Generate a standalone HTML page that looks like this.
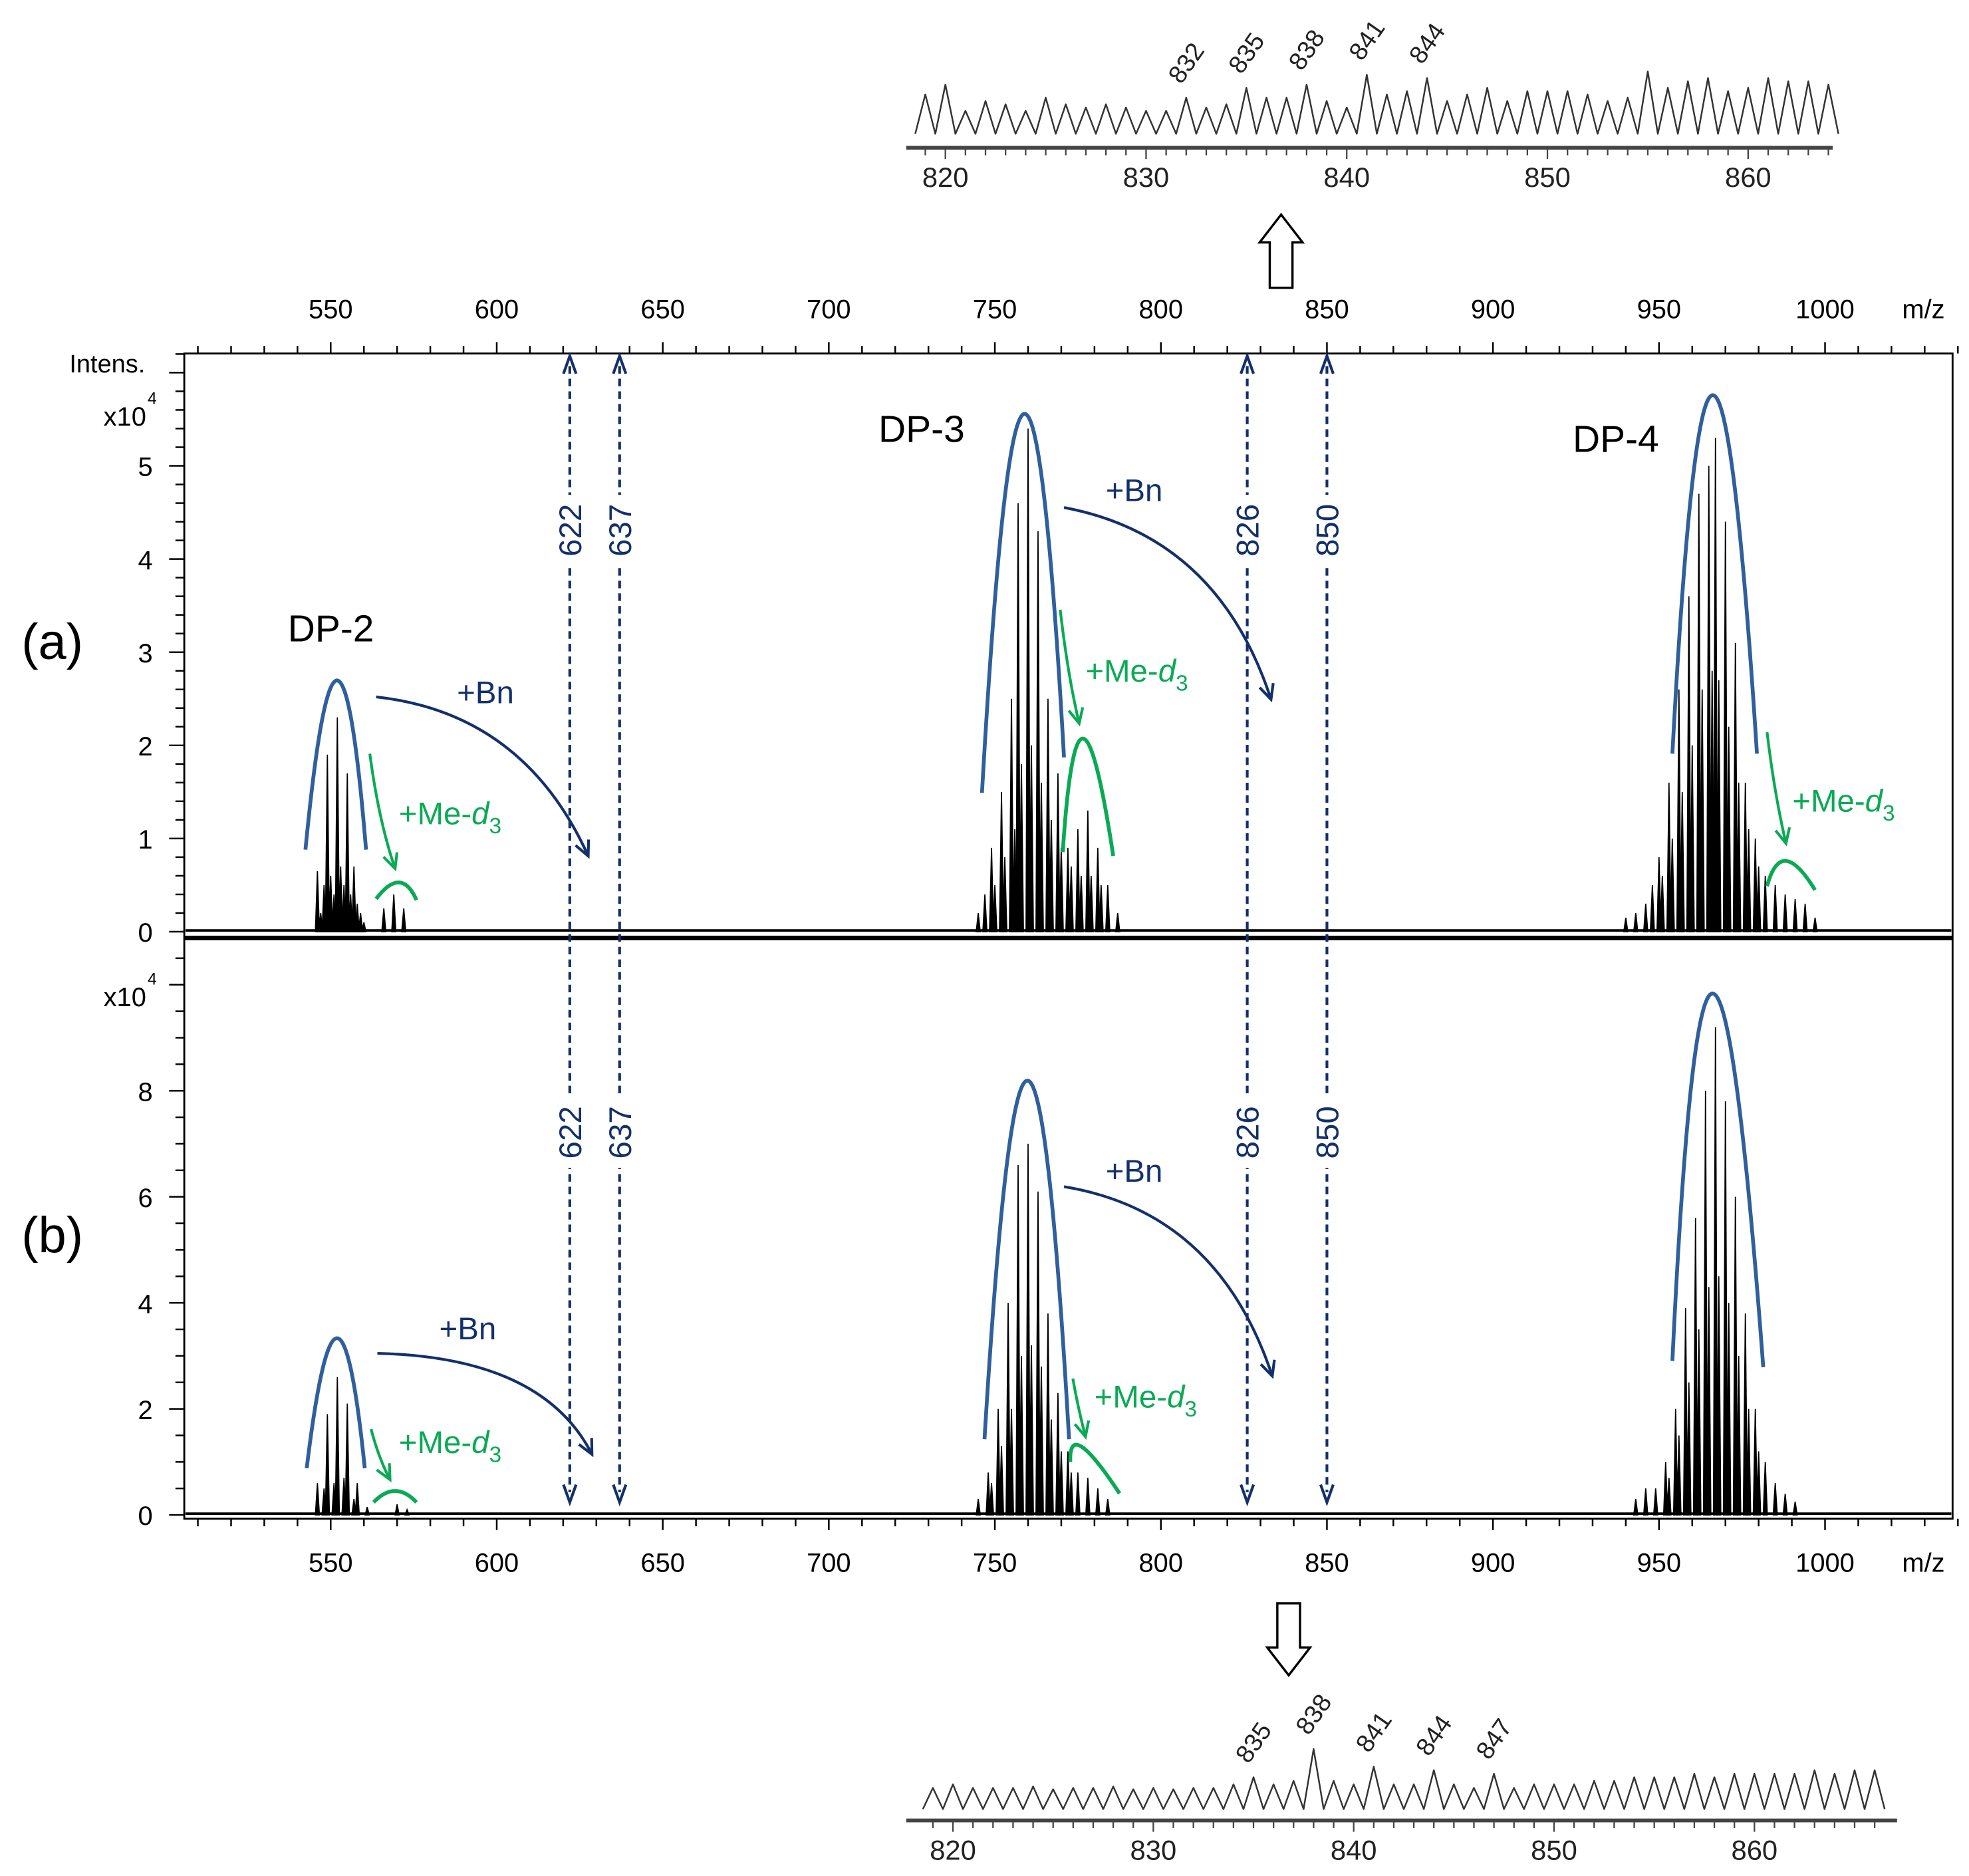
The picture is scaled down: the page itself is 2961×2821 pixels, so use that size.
<!DOCTYPE html>
<html><head><meta charset="utf-8"><style>
html,body{margin:0;padding:0;background:#fff}
svg{display:block}
text{font-family:"Liberation Sans",Arial,sans-serif}
</style></head><body>
<svg id="fig" width="2961" height="2821" viewBox="0 0 1560 1486" preserveAspectRatio="none" xmlns="http://www.w3.org/2000/svg">
<g id="static"></g>
</svg>
<script>
// ---- data ----
const peaksA_mz = [546,547,548,549,550,551,552,553,554,555,556,557,558,559,560, 566,569,572,
 745,747,749,750,752,753,755,756,757,758,760,761,763,764,766,767,769,770,772,773,775,776,778,779,781,782,784,787,
 940,943,946,948,950,951,953,954,956,957,959,960,962,963,965,966,967,968,970,971,973,974,976,977,979,980,982,985,988,991,994,997];
const peaksA_int = [0.65,0.2,0.5,1.9,0.6,0.4,2.3,0.7,0.5,1.7,0.4,0.7,0.3,0.2,0.1, 0.25,0.4,0.25,
 0.2,0.4,0.9,0.5,1.5,0.8,2.5,1.1,4.6,1.8,5.4,2.0,4.3,1.6,2.5,1.2,1.7,0.9,0.9,0.7,1.1,0.6,1.3,0.6,0.9,0.5,0.5,0.2,
 0.15,0.2,0.3,0.5,0.8,0.6,1.6,1.0,2.6,1.5,3.6,2.0,4.7,2.6,5.0,2.8,5.3,2.7,4.4,2.2,3.1,1.6,1.6,1.1,1.0,0.7,0.6,0.5,0.4,0.35,0.3,0.15];
const peaksB_mz = [546,548,549,551,552,554,555,557,558,561,570,573,
 745,748,749,751,752,754,755,757,758,760,761,763,764,766,767,769,770,772,773,775,778,781,784,
 943,946,949,952,953,955,956,958,959,961,962,964,965,967,968,970,971,973,974,976,977,979,980,982,985,988,991];
const peaksB_int = [0.6,0.5,1.9,0.6,2.6,0.7,2.1,0.3,0.6,0.15,0.2,0.1,
 0.3,0.8,0.6,2.0,1.3,4.0,2.0,6.6,3.0,7.0,3.2,6.1,2.8,3.8,1.8,2.3,1.2,1.2,0.8,0.8,0.7,0.5,0.3,
 0.3,0.5,0.5,1.0,0.7,2.0,1.5,3.9,2.5,5.6,3.5,8.0,4.3,9.2,4.5,7.8,4.0,6.0,3.0,3.8,2.0,2.0,1.2,1.0,0.6,0.4,0.25];
const markerMz = [622,637,826,850];
const xTickLabels = [550,600,650,700,750,800,850,900,950,1000];
const yTickLabelsA = [0,1,2,3,4,5];
const yTickLabelsB = [0,2,4,6,8];
const insetTop_mz = [819,820,821,822,823,824,825,826,827,828,829,830,831,832,833,834,835,836,837,838,839,840,841,842,843,844,845,846,847,848,849,850,851,852,853,854,855,856,857,858,859,860,861,862,863,864];
const insetTop_int = [0.6,0.75,0.35,0.5,0.45,0.35,0.55,0.45,0.4,0.45,0.4,0.35,0.35,0.55,0.4,0.45,0.7,0.55,0.55,0.75,0.5,0.4,0.9,0.6,0.65,0.85,0.5,0.6,0.7,0.5,0.65,0.65,0.65,0.6,0.5,0.55,0.95,0.7,0.8,0.85,0.65,0.7,0.85,0.8,0.8,0.75];
const insetTopLabels = [832,835,838,841,844];
const insetBot_mz = [819,820,821,822,823,824,825,826,827,828,829,830,831,832,833,834,835,836,837,838,839,840,841,842,843,844,845,846,847,848,849,850,851,852,853,854,855,856,857,858,859,860,861,862,863,864,865,866];
const insetBot_int = [0.3,0.35,0.3,0.3,0.3,0.32,0.28,0.3,0.3,0.32,0.28,0.3,0.28,0.3,0.3,0.35,0.45,0.35,0.4,0.85,0.4,0.35,0.6,0.35,0.35,0.55,0.35,0.3,0.5,0.3,0.35,0.35,0.35,0.4,0.4,0.45,0.45,0.45,0.5,0.45,0.5,0.5,0.5,0.5,0.55,0.5,0.55,0.55];
const insetBotLabels = [835,838,841,844,847];
const insetTicks = [820,830,840,850,860];

// ---- axes ----
const X = m => 262 + (m - 550) * 2.631;
const YA = v => 738 - v * 73.8;
const YB = v => 1200 - v * 42;
const XT = m => 749 + (m - 820) * 15.9;
const XB = m => 755 + (m - 820) * 15.875;

const NS = "http://www.w3.org/2000/svg";
const root = document.getElementById('static');
function mk(tag, attrs, parent) {
  const e = document.createElementNS(NS, tag);
  for (const k in attrs) e.setAttribute(k, attrs[k]);
  (parent || root).appendChild(e);
  return e;
}
function txt(s, x, y, size, attrs, parent) {
  const t = mk('text', Object.assign({x: x, y: y, 'font-size': size}, attrs || {}), parent);
  t.textContent = s;
  return t;
}

// frame
const frame = mk('rect', {x: 146, y: 280, width: 1401, height: 923, fill: 'none', stroke: '#000', 'stroke-width': 1.5});


const sep = mk('line', {x1: 146, x2: 1547, y1: 743, y2: 743, stroke: '#000', 'stroke-width': 3.5});



// x ticks top and bottom
const xAxisG = mk('g', {stroke: '#000', 'stroke-width': 1.3});


for (let m = 510; m <= 1040; m += 10) {
  const major = m % 50 === 0;
  mk('line', {x1: X(m), x2: X(m), y1: 280, y2: 280 - (major ? 9 : 6)}, xAxisG);
  mk('line', {x1: X(m), x2: X(m), y1: 1203, y2: 1203 + (major ? 9 : 6)}, xAxisG);
}
xTickLabels.forEach(v => {
  const a = txt(String(v), X(v), 252, 21, {'text-anchor': 'middle'});
  
  
  const b = txt(String(v), X(v), 1245, 21, {'text-anchor': 'middle'});
  
  
});
const mz1 = txt('m/z', 1507, 252, 21, {});


const mz2 = txt('m/z', 1507, 1245, 21, {});



// y ticks
const yAxisG = mk('g', {stroke: '#000', 'stroke-width': 1.3});


for (let i = 0; i <= 31; i++) {
  const v = i * 0.2;
  const major = i % 5 === 0;
  mk('line', {x1: 146, x2: 146 - (major ? 12 : 7), y1: YA(v), y2: YA(v)}, yAxisG);
}
for (let i = 0; i <= 21; i++) {
  const v = i * 0.5;
  const major = i % 4 === 0;
  mk('line', {x1: 146, x2: 146 - (major ? 12 : 7), y1: YB(v), y2: YB(v)}, yAxisG);
}
yTickLabelsA.forEach(v => {
  const t = txt(String(v), 121, YA(v) + 8, 21, {'text-anchor': 'end'});
  
  
});
yTickLabelsB.forEach(v => {
  const t = txt(String(v), 121, YB(v) + 8, 21, {'text-anchor': 'end'});
  
  
});
const it = txt('Intens.', 55, 295, 20, {});


[[337, 'y-scale-a'], [797, 'y-scale-b']].forEach(([y, n]) => {
  const t = txt('x10', 82, y, 21, {});
  
  
  txt('4', 117, y - 17, 13, {});
});
const pa = txt('(a)', 17, 522, 40, {});


const pb = txt('(b)', 17, 992, 40, {});



// spectra
function spectrum(mzs, ints, Y, name) {
  const g = mk('g', {});
  
  
  mk('line', {x1: 147, x2: 1546, y1: Y(0) - 1, y2: Y(0) - 1, stroke: '#000', 'stroke-width': 2}, g);
  mzs.forEach((m, i) => {
    const x = X(m);
    const p = mk('path', {d: `M${x - 1.6},${Y(0)} L${x},${Y(ints[i])} L${x + 1.6},${Y(0)} Z`, fill: '#000', stroke: '#000', 'stroke-width': 0.9}, g);
    
    
  });
}
spectrum(peaksA_mz, peaksA_int, YA, 'spectrum-a');
spectrum(peaksB_mz, peaksB_int, YB, 'spectrum-b');

// marker dashed lines
const navy = '#13306b';
markerMz.forEach(m => {
  const x = X(m);
  const g = mk('g', {});
  
  
  mk('line', {x1: x, x2: x, y1: 290, y2: 1182, stroke: navy, 'stroke-width': 2.2, 'stroke-dasharray': '6,4'}, g);
  mk('path', {d: `M${x - 5},${296} L${x},${282} L${x + 5},${296}`, fill: 'none', stroke: navy, 'stroke-width': 2.2}, g);
  mk('path', {d: `M${x - 5},${1176} L${x},${1190} L${x + 5},${1176}`, fill: 'none', stroke: navy, 'stroke-width': 2.2}, g);
  [420, 897].forEach(y => {
    mk('rect', {x: x - 12, y: y - 28, width: 24, height: 56, fill: '#fff'}, g);
    txt(String(m), x + 9, y, 25, {fill: navy, 'text-anchor': 'middle', transform: `rotate(-90 ${x + 9} ${y})`}, g);
  });
});

// envelopes & arrows
const blue = '#2f5f9c', green = '#0aaa55';
function env(pts, col, w, name) {
  const [a, b, c] = pts;
  const cx = 2 * b[0] - (a[0] + c[0]) / 2, cy = 2 * b[1] - (a[1] + c[1]) / 2;
  const p = mk('path', {d: `M${a[0]},${a[1]} Q${cx},${cy} ${c[0]},${c[1]}`, fill: 'none', stroke: col, 'stroke-width': w});
  
  
}
env([[242,673],[267,539],[290,673]], blue, 3, 'envelope-dp2-a');
env([[778,628],[811,328],[843,600]], blue, 3, 'envelope-dp3-a');
env([[1325,597],[1357,313],[1392,597]], blue, 3, 'envelope-dp4-a');
env([[298,712],[316,699],[330,713]], green, 3, 'envelope-me-dp2-a');
env([[842,675],[858,585],[882,678]], green, 3, 'envelope-me-dp3-a');
env([[1400,702],[1415,682],[1438,705]], green, 3, 'envelope-me-dp4-a');
env([[243,1163],[267,1060],[289,1163]], blue, 3, 'envelope-dp2-b');
env([[780,1140],[814,856],[847,1140]], blue, 3, 'envelope-dp3-b');
env([[1325,1078],[1357,787],[1397,1083]], blue, 3, 'envelope-dp4-b');
env([[296,1190],[313,1181],[330,1190]], green, 3, 'envelope-me-dp2-b');
env([[848,1158],[857,1146],[887,1183]], green, 3, 'envelope-me-dp3-b');

function arrow(x1, y1, cx, cy, x2, y2, col, name) {
  const g = mk('g', {});
  
  
  mk('path', {d: `M${x1},${y1} Q${cx},${cy} ${x2},${y2}`, fill: 'none', stroke: col, 'stroke-width': 2.2}, g);
  const ang = Math.atan2(y2 - cy, x2 - cx);
  const L = 13, s = 0.45;
  const p1 = [x2 - L * Math.cos(ang - s), y2 - L * Math.sin(ang - s)];
  const p2 = [x2 - L * Math.cos(ang + s), y2 - L * Math.sin(ang + s)];
  mk('path', {d: `M${p1[0]},${p1[1]} L${x2},${y2} L${p2[0]},${p2[1]}`, fill: 'none', stroke: col, 'stroke-width': 2.2}, g);
}
arrow(298,552, 415,565, 466,678, navy, 'arrow-bn-dp2-a');
arrow(293,597, 300,650, 313,688, green, 'arrow-me-dp2-a');
arrow(843,402, 965,425, 1007,554, navy, 'arrow-bn-dp3-a');
arrow(840,483, 846,535, 855,573, green, 'arrow-me-dp3-a');
arrow(1400,580, 1406,630, 1415,668, green, 'arrow-me-dp4-a');
arrow(299,1072, 430,1075, 469,1152, navy, 'arrow-bn-dp2-b');
arrow(294,1132, 300,1155, 309,1172, green, 'arrow-me-dp2-b');
arrow(843,940, 965,960, 1008,1090, navy, 'arrow-bn-dp3-b');
arrow(850,1092, 854,1115, 860,1138, green, 'arrow-me-dp3-b');

function lbl(s, x, y, col, size, name, sub) {
  const t = txt(s, x, y, size, {fill: col});
  
  
  if (sub) {
    const a = document.createElementNS(NS, 'tspan'); a.setAttribute('font-style', 'italic'); a.textContent = 'd'; t.appendChild(a);
    const b = document.createElementNS(NS, 'tspan'); b.setAttribute('font-size', size * 0.7); b.setAttribute('dy', 7); b.textContent = '3'; t.appendChild(b);
  }
}
lbl('DP-2', 228, 508, '#000', 30, 'label-dp2');
lbl('DP-3', 696, 350, '#000', 30, 'label-dp3');
lbl('DP-4', 1246, 358, '#000', 30, 'label-dp4');
lbl('+Bn', 362, 557, navy, 25, 'label-bn-dp2-a');
lbl('+Bn', 876, 397, navy, 25, 'label-bn-dp3-a');
lbl('+Bn', 348, 1061, navy, 25, 'label-bn-dp2-b');
lbl('+Bn', 876, 936, navy, 25, 'label-bn-dp3-b');
lbl('+Me-', 316, 653, green, 25, 'label-me-dp2-a', true);
lbl('+Me-', 860, 540, green, 25, 'label-me-dp3-a', true);
lbl('+Me-', 1420, 643, green, 25, 'label-me-dp4-a', true);
lbl('+Me-', 316, 1151, green, 25, 'label-me-dp2-b', true);
lbl('+Me-', 867, 1115, green, 25, 'label-me-dp3-b', true);

// insets
function inset(mzs, ints, Xf, base, scale, axisY, x0, x1, labels, ticksY, name) {
  const g = mk('g', {});
  
  
  let d = '';
  mzs.forEach((m, i) => {
    const v = Xf(m - 0.5), p = Xf(m);
    d += (i === 0 ? 'M' : 'L') + `${v},${base} L${p},${base - ints[i] * scale} `;
  });
  d += `L${Xf(mzs[mzs.length - 1] + 0.5)},${base}`;
  mk('path', {d: d, fill: 'none', stroke: '#333', 'stroke-width': 1.3, 'stroke-linejoin': 'round'}, g);
  mk('line', {x1: x0, x2: x1, y1: axisY, y2: axisY, stroke: '#444', 'stroke-width': 3}, g);
  for (let m = 819; m <= 866; m++) {
    const x = Xf(m);
    if (x < x0 || x > x1) continue;
    mk('line', {x1: x, x2: x, y1: axisY, y2: axisY + (m % 10 === 0 ? 9 : 6), stroke: '#444', 'stroke-width': 1.2}, g);
  }
  insetTicks.forEach(v => {
    const t = txt(String(v), Xf(v), axisY + 31, 22, {'text-anchor': 'middle', fill: '#222'}, g);
    
    
  });
  labels.forEach(v => {
    const idx = mzs.indexOf(v);
    const y = base - ints[idx] * scale - 10;
    const t = txt(String(v), Xf(v) - 4, y, 20, {fill: '#222', transform: `rotate(-55 ${Xf(v) - 4} ${y})`}, g);
    
    
  });
}
inset(insetTop_mz, insetTop_int, XT, 106, 52, 117, 718, 1452, insetTopLabels, 117, 'inset-top-spectrum');
inset(insetBot_mz, insetBot_int, XB, 1433, 56, 1442, 718, 1503, insetBotLabels, 1442, 'inset-bottom-spectrum');

// hollow arrows
const up = mk('path', {d: 'M1015,170 L1032,192 L1024,192 L1024,228 L1006,228 L1006,192 L998,192 Z', fill: '#fff', stroke: '#000', 'stroke-width': 1.8});


const dn = mk('path', {d: 'M1021,1327 L1038,1305 L1030,1305 L1030,1270 L1012,1270 L1012,1305 L1004,1305 Z', fill: '#fff', stroke: '#000', 'stroke-width': 1.8});


</script>
</body></html>
